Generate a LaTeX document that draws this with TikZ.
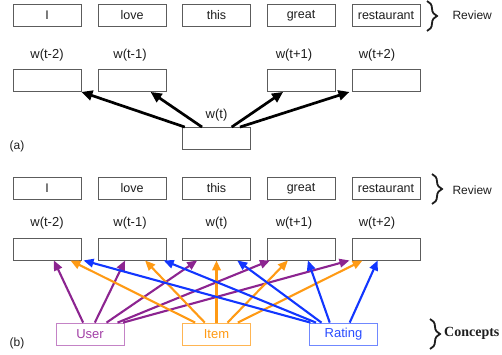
\documentclass[tikz,border=0pt]{standalone}
\usepackage{fontspec}
\setmainfont{Liberation Sans}
\newfontfamily\conceptsFont{Liberation Serif}
\usetikzlibrary{arrows.meta,calc,decorations.pathreplacing}
\definecolor{skInk}{HTML}{1E1E1E}
\definecolor{skGrey}{HTML}{5C5C5C}
\definecolor{skPurple}{HTML}{8C2490}
\definecolor{skPurpleLine}{HTML}{C483C6}
\definecolor{skPurpleText}{HTML}{A23FA6}
\definecolor{skOrange}{HTML}{FF9A14}
\definecolor{skOrangeLine}{HTML}{FFB552}
\definecolor{skBlue}{HTML}{1236FF}
\definecolor{skBlueLine}{HTML}{7088FF}
\definecolor{skBlueText}{HTML}{2A4DFF}
\tikzset{
  wordBox/.style={rectangle, draw=skGrey, line width=0.9pt, fill=white,
    minimum width=68pt, minimum height=22pt, inner sep=0pt,
    font=\fontsize{12.5}{14}\selectfont, text=skInk},
  slotLabel/.style={font=\fontsize{13}{15}\selectfont, text=skInk},
  conceptBox/.style={rectangle, line width=0.8pt, fill=white,
    minimum width=68pt, minimum height=22pt, inner sep=0pt,
    font=\fontsize{13}{15}\selectfont},
  groupBrace/.style={decorate, decoration={brace, amplitude=10pt}, line width=1.8pt, color=skInk},
  groupLabel/.style={font=\fontsize{12}{14}\selectfont, anchor=west, text=skInk},
  panelTag/.style={font=\fontsize{12}{14}\selectfont, text=skInk},
  ctxArrow/.style={-{Triangle[length=11pt, width=10pt]}, line width=2.7pt, color=black},
  userArrow/.style={-{Triangle[length=10pt, width=8.5pt]}, line width=2.1pt, color=skPurple},
  itemArrow/.style={-{Triangle[length=10pt, width=8.5pt]}, line width=2.1pt, color=skOrange},
  ratingArrow/.style={-{Triangle[length=10pt, width=8.5pt]}, line width=2.1pt, color=skBlue},
}
\begin{document}
\begin{tikzpicture}[x=1pt,y=-1pt]
  \useasboundingbox (0,0) rectangle (502,355);

  % (a) skip-gram
  \node[wordBox] (wordA1) at (47,15.5) {I};
  \node[wordBox] (wordA2) at (132,15.5) {love};
  \node[wordBox] (wordA3) at (216.5,15.5) {this};
  \node[wordBox] (wordA4) at (301,15.5) {great};
  \node[wordBox] (wordA5) at (386,15.5) {restaurant};
  \coordinate (braceTopA) at (427,1);
  \coordinate (braceBotA) at (427,31);
  \draw[groupBrace] (braceTopA) -- (braceBotA);
  \node[groupLabel] (reviewA) at (449,15.5) {Review};

  \node[slotLabel] (labA1) at (47,55) {w(t-2)};
  \node[slotLabel] (labA2) at (130,55) {w(t-1)};
  \node[slotLabel] (labA4) at (294,55) {w(t+1)};
  \node[slotLabel] (labA5) at (377,55) {w(t+2)};
  \node[wordBox] (slotA1) at (47,80.5) {};
  \node[wordBox] (slotA2) at (132,80.5) {};
  \node[wordBox] (slotA4) at (301,80.5) {};
  \node[wordBox] (slotA5) at (386,80.5) {};

  \node[slotLabel] (labA3) at (216.5,115) {w(t)};
  \node[wordBox] (slotA3) at (216.5,138.5) {};
  \node[panelTag] (tagA) at (17,146) {(a)};

  \draw[ctxArrow] ($(slotA3.north west)!0.04!(slotA3.north east)$) -- (slotA1.south east);
  \draw[ctxArrow] ($(slotA3.north west)!0.29!(slotA3.north east)$) -- ($(slotA2.south west)!0.77!(slotA2.south east)$);
  \draw[ctxArrow] ($(slotA3.north west)!0.72!(slotA3.north east)$) -- ($(slotA4.south west)!0.24!(slotA4.south east)$);
  \draw[ctxArrow] ($(slotA3.north west)!0.84!(slotA3.north east)$) -- ($(slotA5.south west)!-0.03!(slotA5.south east)$);

  % (b) concepts
  \node[wordBox] (wordB1) at (47,188.5) {I};
  \node[wordBox] (wordB2) at (132,188.5) {love};
  \node[wordBox] (wordB3) at (216.5,188.5) {this};
  \node[wordBox] (wordB4) at (301,188.5) {great};
  \node[wordBox] (wordB5) at (386,188.5) {restaurant};
  \coordinate (braceTopB) at (432,174);
  \coordinate (braceBotB) at (432,204);
  \draw[groupBrace] (braceTopB) -- (braceBotB);
  \node[groupLabel] (reviewB) at (449,190) {Review};

  \node[slotLabel] (labB1) at (47,223) {w(t-2)};
  \node[slotLabel] (labB2) at (130,223) {w(t-1)};
  \node[slotLabel] (labB3) at (216.5,223) {w(t)};
  \node[slotLabel] (labB4) at (294,223) {w(t+1)};
  \node[slotLabel] (labB5) at (377,223) {w(t+2)};
  \node[wordBox] (slotB1) at (47,249) {};
  \node[wordBox] (slotB2) at (132,249) {};
  \node[wordBox] (slotB3) at (216.5,249) {};
  \node[wordBox] (slotB4) at (301,249) {};
  \node[wordBox] (slotB5) at (386,249) {};

  \node[conceptBox, draw=skPurpleLine, text=skPurpleText] (user) at (90,334) {User};
  \node[conceptBox, draw=skOrangeLine, text=skOrange] (item) at (216.5,334) {Item};
  \node[conceptBox, draw=skBlueLine, text=skBlueText] (rating) at (343.5,334) {Rating};
  \coordinate (braceTopC) at (430,319);
  \coordinate (braceBotC) at (430,349);
  \draw[groupBrace] (braceTopC) -- (braceBotC);
  \node[groupLabel, inner sep=0pt, font=\conceptsFont\bfseries\fontsize{14}{16}\selectfont] (concepts) at (444,333) {Concepts};
  \node[panelTag] (tagB) at (17,343) {(b)};

  \draw[userArrow] ($(user.north west)!0.40!(user.north east)$) -- ($(slotB1.south west)!0.60!(slotB1.south east)$);
  \draw[userArrow] ($(user.north west)!0.57!(user.north east)$) -- ($(slotB2.south west)!0.40!(slotB2.south east)$);
  \draw[userArrow] ($(user.north west)!0.74!(user.north east)$) -- ($(slotB3.south west)!0.22!(slotB3.south east)$);
  \draw[userArrow] ($(user.north west)!0.90!(user.north east)$) -- ($(slotB4.south west)!0.05!(slotB4.south east)$);
  \draw[userArrow] ($(user.north west)!0.98!(user.north east)$) -- ($(slotB5.south west)!-0.03!(slotB5.south east)$);

  \draw[itemArrow] ($(item.north west)!0.19!(item.north east)$) -- ($(slotB1.south west)!0.84!(slotB1.south east)$);
  \draw[itemArrow] ($(item.north west)!0.33!(item.north east)$) -- ($(slotB2.south west)!0.69!(slotB2.south east)$);
  \draw[itemArrow] (item.north) -- (slotB3.south);
  \draw[itemArrow] ($(item.north west)!0.66!(item.north east)$) -- ($(slotB4.south west)!0.31!(slotB4.south east)$);
  \draw[itemArrow] ($(item.north west)!0.81!(item.north east)$) -- ($(slotB5.south west)!0.16!(slotB5.south east)$);

  \draw[ratingArrow] ($(rating.north west)!0.02!(rating.north east)$) -- ($(slotB1.south west)!1.03!(slotB1.south east)$);
  \draw[ratingArrow] ($(rating.north west)!0.10!(rating.north east)$) -- ($(slotB2.south west)!0.96!(slotB2.south east)$);
  \draw[ratingArrow] ($(rating.north west)!0.18!(rating.north east)$) -- ($(slotB3.south west)!0.80!(slotB3.south east)$);
  \draw[ratingArrow] ($(rating.north west)!0.30!(rating.north east)$) -- ($(slotB4.south west)!0.60!(slotB4.south east)$);
  \draw[ratingArrow] ($(rating.north west)!0.59!(rating.north east)$) -- ($(slotB5.south west)!0.38!(slotB5.south east)$);
\end{tikzpicture}
\end{document}
